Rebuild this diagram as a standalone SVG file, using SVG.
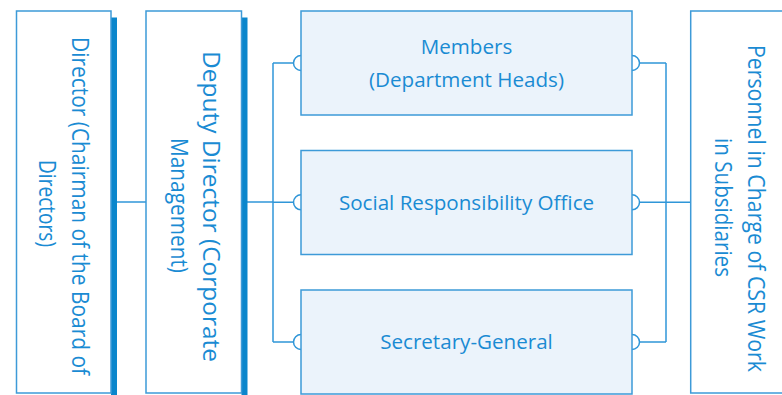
<svg xmlns="http://www.w3.org/2000/svg" width="782" height="395" viewBox="0 0 782 395">
  <style>
    .side { fill: #ffffff; stroke: #3d9ad8; stroke-width: 1.5; }
    .shadow { fill: #0a86cc; stroke: none; }
    .mid { fill: #ebf3fb; stroke: #3d9ad8; stroke-width: 1.5; }
    .t { font-family: "Open Sans", "Noto Sans", sans-serif; fill: #1a8bd3; text-anchor: middle; }
    .tm { font-size: 20.6px; }
    .tv { font-size: 21px; }
    .conn { fill: none; stroke: #2f96d8; stroke-width: 1.5; }
  </style>
  <rect width="782" height="395" fill="#ffffff"/>

  <g id="connectors">
    <path class="conn" d="M117,202 H146"/>
    <path class="conn" d="M247,202 H273"/>
    <path class="conn" d="M273,63 V342"/>
    <path class="conn" d="M273,63 H293.5 M273,202.3 H293.5 M273,342 H293.5"/>
    <path class="conn" d="M301,55.5 A7.5,7.5 0 0 0 301,70.5 M301,194.8 A7.5,7.5 0 0 0 301,209.8 M301,334.5 A7.5,7.5 0 0 0 301,349.5"/>
    <path class="conn" d="M632,55.5 A7.5,7.5 0 0 1 632,70.5 M632,194.8 A7.5,7.5 0 0 1 632,209.8 M632,334.5 A7.5,7.5 0 0 1 632,349.5"/>
    <path class="conn" d="M639.5,63 H666 M639.5,342 H666 M639.5,202.3 H690.7"/>
    <path class="conn" d="M666,63 V342"/>
  </g>

  <g id="director">
    <rect class="shadow" x="111" y="17.5" width="6" height="380"/>
    <rect class="side" x="16.5" y="11" width="94.5" height="382"/>
    <text class="t tv" transform="translate(71.7,206) rotate(90) scale(1,1.1)" textLength="338" lengthAdjust="spacingAndGlyphs">Director (Chairman of the Board of</text>
    <text class="t tv" transform="translate(38.5,203.5) rotate(90) scale(1,1.1)" textLength="87" lengthAdjust="spacingAndGlyphs">Directors)</text>
  </g>

  <g id="deputy">
    <rect class="shadow" x="241.5" y="17.5" width="6" height="380"/>
    <rect class="side" x="146" y="11" width="95.5" height="382"/>
    <text class="t tv" transform="translate(203.3,206.5) rotate(90) scale(1,1.1)" textLength="311" lengthAdjust="spacingAndGlyphs">Deputy Director (Corporate</text>
    <text class="t tv" transform="translate(171.3,205.5) rotate(90) scale(1,1.1)" textLength="135" lengthAdjust="spacingAndGlyphs">Management)</text>
  </g>

  <g id="members">
    <rect class="mid" x="301" y="11" width="331" height="104"/>
    <text class="t tm" x="466.5" y="54">Members</text>
    <text class="t tm" x="466.5" y="86.5">(Department Heads)</text>
  </g>

  <g id="office">
    <rect class="mid" x="301" y="150.5" width="331" height="104"/>
    <text class="t tm" x="466.5" y="209.5">Social Responsibility Office</text>
  </g>

  <g id="secretary">
    <rect class="mid" x="301" y="290" width="331" height="104"/>
    <text class="t tm" x="466.5" y="349">Secretary-General</text>
  </g>

  <g id="personnel">
    <rect class="side" x="690.7" y="11" width="100" height="382"/>
    <text class="t tv" transform="translate(748.3,208.5) rotate(90) scale(1,1.1)" textLength="327" lengthAdjust="spacingAndGlyphs">Personnel in Charge of CSR Work</text>
    <text class="t tv" transform="translate(715.3,207.5) rotate(90) scale(1,1.1)" textLength="139" lengthAdjust="spacingAndGlyphs">in Subsidiaries</text>
  </g>
</svg>
